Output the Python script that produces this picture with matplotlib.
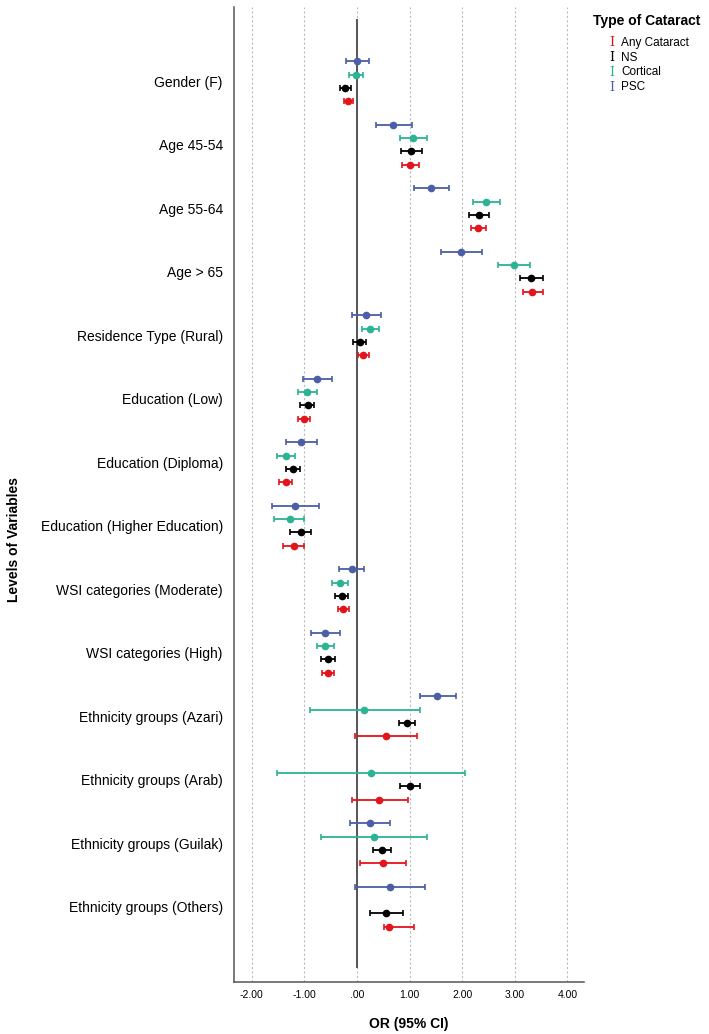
import numpy as np
import matplotlib.pyplot as plt

plt.rcParams['font.family'] = ['Liberation Sans', 'DejaVu Sans']

variables = ["Gender (F)", "Age 45-54", "Age 55-64", "Age > 65",
             "Residence Type (Rural)", "Education (Low)", "Education (Diploma)",
             "Education (Higher Education)", "WSI categories (Moderate)",
             "WSI categories (High)", "Ethnicity groups (Azari)",
             "Ethnicity groups (Arab)", "Ethnicity groups (Guilak)",
             "Ethnicity groups (Others)"]

# estimates and 95% CI per type (nan = not shown)
psc_or = [0.00, 0.69, 1.41, 1.97, 0.17, -0.76, -1.06, -1.17, -0.10, -0.60, 1.53, np.nan, 0.24, 0.63]
psc_lo = [-0.21, 0.36, 1.08, 1.59, -0.09, -1.03, -1.36, -1.62, -0.35, -0.88, 1.19, np.nan, -0.13, -0.03]
psc_hi = [0.22, 1.05, 1.75, 2.37, 0.45, -0.48, -0.77, -0.72, 0.14, -0.33, 1.88, np.nan, 0.62, 1.29]

cort_or = [-0.02, 1.07, 2.45, 2.98, 0.25, -0.95, -1.35, -1.27, -0.32, -0.60, 0.13, 0.27, 0.33, np.nan]
cort_lo = [-0.15, 0.81, 2.20, 2.68, 0.09, -1.12, -1.52, -1.57, -0.47, -0.76, -0.90, -1.52, -0.68, np.nan]
cort_hi = [0.11, 1.34, 2.71, 3.28, 0.42, -0.77, -1.17, -1.01, -0.17, -0.44, 1.19, 2.05, 1.34, np.nan]

ns_or = [-0.23, 1.02, 2.31, 3.30, 0.05, -0.94, -1.21, -1.06, -0.29, -0.56, 0.95, 1.00, 0.48, 0.56]
ns_lo = [-0.32, 0.83, 2.12, 3.09, -0.07, -1.09, -1.36, -1.28, -0.41, -0.68, 0.79, 0.82, 0.30, 0.25]
ns_hi = [-0.12, 1.23, 2.50, 3.53, 0.18, -0.82, -1.08, -0.87, -0.17, -0.42, 1.11, 1.19, 0.65, 0.88]

any_or = [-0.17, 1.00, 2.30, 3.33, 0.11, -1.00, -1.35, -1.20, -0.26, -0.56, 0.55, 0.42, 0.49, 0.61]
any_lo = [-0.25, 0.86, 2.16, 3.15, 0.01, -1.12, -1.48, -1.40, -0.37, -0.66, -0.03, -0.10, 0.05, 0.51]
any_hi = [-0.08, 1.17, 2.45, 3.53, 0.22, -0.89, -1.23, -1.01, -0.15, -0.44, 1.14, 0.96, 0.94, 1.08]

series = [
    ("PSC", "#4b5ea6", psc_or, psc_lo, psc_hi),
    ("Cortical", "#2bb394", cort_or, cort_lo, cort_hi),
    ("NS", "#000000", ns_or, ns_lo, ns_hi),
    ("Any Cataract", "#e3151b", any_or, any_lo, any_hi),
]

fig = plt.figure(figsize=(7.09, 10.34), dpi=100)
ax = fig.add_axes([0.330, 0.0503, 0.494, 0.9429])

step = 0.21
groups = np.arange(len(variables))
for j, (name, col, est, lo, hi) in enumerate(series):
    est = np.array(est)
    lo = np.array(lo)
    hi = np.array(hi)
    y = groups + j * step
    ok = ~np.isnan(est)
    ax.errorbar(est[ok], y[ok], xerr=[est[ok] - lo[ok], hi[ok] - est[ok]],
                fmt='o', color=col, ecolor=col, markersize=4.5, elinewidth=1.3,
                capsize=2.2, capthick=1.2, zorder=3)

ax.plot([0, 0], [-0.65, 14.26], color='#555555', lw=1.4, zorder=2)

ax.set_xlim(-2.34, 4.32)
ax.set_ylim(14.5, -0.855)
ticks = [-2, -1, 0, 1, 2, 3, 4]
ax.set_xticks(ticks)
ax.set_xticklabels(["-2.00", "-1.00", ".00", "1.00", "2.00", "3.00", "4.00"], fontsize=7.5)
ax.set_yticks(groups + 1.5 * step)
ax.set_yticklabels(variables, fontsize=10)
ax.tick_params(length=0, pad=6)
ax.tick_params(axis='y', pad=8)
for t in ticks:
    ax.axvline(t, color='#bbbbbb', lw=0.8, ls=(0, (2, 2)), zorder=1)

for s in ['top', 'right']:
    ax.spines[s].set_visible(False)
for s in ['left', 'bottom']:
    ax.spines[s].set_color('#555555')
    ax.spines[s].set_linewidth(1.1)

ax.set_xlabel("OR (95% CI)", fontsize=10, fontweight='bold', labelpad=12)
fig.text(0.02, 0.478, "Levels of Variables", rotation=90, fontsize=10,
         fontweight='bold', ha='center', va='center')

# legend
fig.text(0.836, 0.980, "Type of Cataract", fontsize=10, fontweight='bold', va='center')
legend_items = [("Any Cataract", "#e3151b"), ("NS", "#000000"),
                ("Cortical", "#2bb394"), ("PSC", "#4b5ea6")]
for k, (name, col) in enumerate(legend_items):
    yy = 1 - (43 + 14.7 * k) / 1034
    fig.text(0.859, yy, "I", color=col, fontsize=9, family='DejaVu Serif', va='center')
    fig.text(0.876, yy, name, fontsize=8.5, va='center')

fig.savefig("out.png", dpi=100)
